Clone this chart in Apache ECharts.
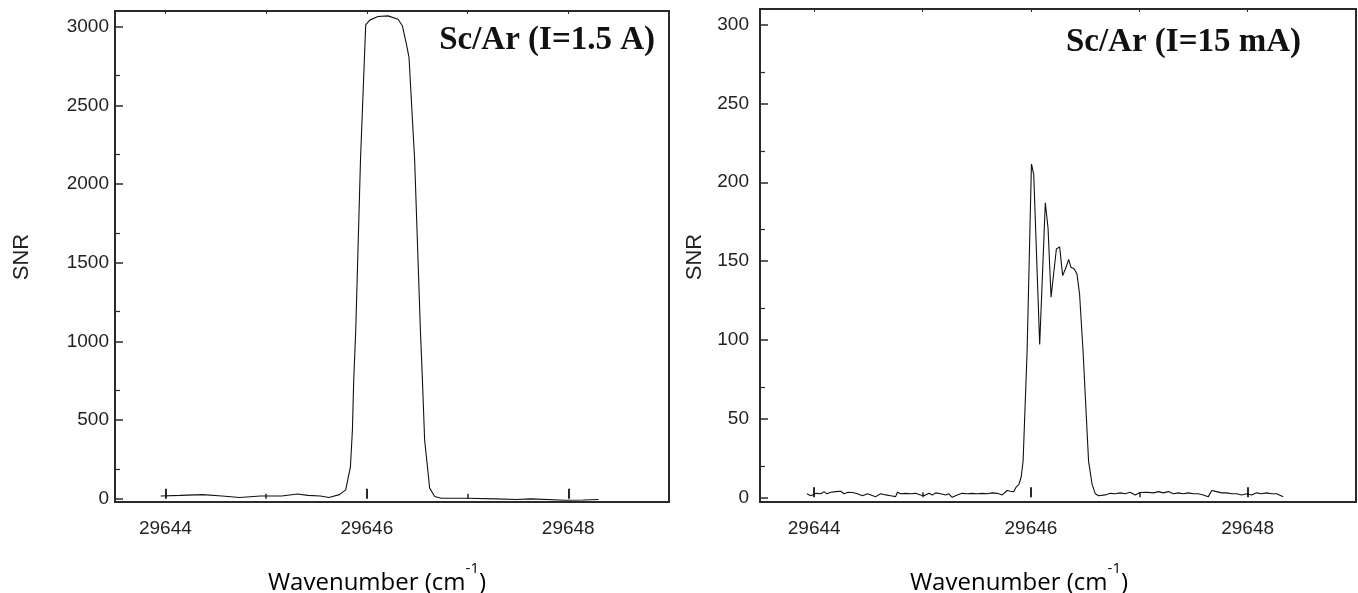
<!DOCTYPE html>
<html>
<head>
<meta charset="utf-8">
<script src="https://cdn.jsdelivr.net/npm/echarts@6/dist/echarts.min.js"></script>
<style>
html,body{margin:0;padding:0;background:#fff;}
#c{width:1358px;height:593px;}
</style>
</head>
<body>
<div id="c"></div>
<script>
// ---- Data ----
const xTickLabels = [29644, 29646, 29648];
const xMinorTicks = [29645, 29647];
const xTopTicks = [29644, 29645, 29646, 29647, 29648];
const leftYTickLabels = [0, 500, 1000, 1500, 2000, 2500, 3000];
const leftYMinorTicks = [190, 690, 1190, 1690, 2190, 2690];
const rightYTickLabels = [0, 50, 100, 150, 200, 250, 300];
const rightYMinorTicks = [20, 70, 120, 170, 220, 270];

// Left panel: Sc/Ar (I=1.5 A)
const leftX = [29643.954, 29644.146, 29644.371, 29644.563, 29644.737, 29644.945, 29645.155, 29645.312,
  29645.416, 29645.538, 29645.624, 29645.728, 29645.79, 29645.837, 29645.857, 29645.870, 29645.890,
  29645.937, 29645.989, 29646.029, 29646.111, 29646.210, 29646.310, 29646.353, 29646.393, 29646.419,
  29646.475, 29646.532, 29646.552, 29646.574, 29646.624, 29646.674, 29646.740, 29647.0, 29647.277,
  29647.486, 29647.625, 29647.973, 29648.147, 29648.30];
const leftY = [18, 22, 27, 18, 9, 18, 18, 31,
  22, 18, 9, 27, 57, 201, 437, 755, 1072,
  2150, 3012, 3042, 3065, 3069, 3048, 3006, 2890, 2805,
  2150, 1072, 755, 374, 68, 15, 4, 4, 0,
  -4, 0, -9, -7, -4];

// Right panel: Sc/Ar (I=15 mA)
const rightX = [29643.933, 29643.969, 29644.016, 29644.062, 29644.092, 29644.117, 29644.154, 29644.200,
  29644.246, 29644.276, 29644.313, 29644.354, 29644.400, 29644.446, 29644.492, 29644.522, 29644.568,
  29644.614, 29644.660, 29644.706, 29644.752, 29644.768, 29644.798, 29644.844, 29644.890, 29644.936,
  29644.982, 29645.013, 29645.059, 29645.090, 29645.121, 29645.167, 29645.213, 29645.243, 29645.274,
  29645.320, 29645.366, 29645.413, 29645.459, 29645.505, 29645.551, 29645.597, 29645.643, 29645.689,
  29645.735, 29645.781, 29645.811, 29645.842, 29645.867, 29645.888, 29645.910, 29645.928, 29645.965,
  29646.005, 29646.026, 29646.081, 29646.133, 29646.158, 29646.186, 29646.204, 29646.235, 29646.265,
  29646.293, 29646.324, 29646.348, 29646.370, 29646.400, 29646.425, 29646.449, 29646.481, 29646.532,
  29646.564, 29646.594, 29646.624, 29646.640, 29646.686, 29646.732, 29646.778, 29646.824, 29646.870,
  29646.916, 29646.962, 29647.008, 29647.070, 29647.131, 29647.177, 29647.223, 29647.269, 29647.315,
  29647.361, 29647.407, 29647.453, 29647.499, 29647.545, 29647.591, 29647.637, 29647.669, 29647.715,
  29647.761, 29647.807, 29647.853, 29647.899, 29647.945, 29647.991, 29648.037, 29648.083, 29648.129,
  29648.175, 29648.221, 29648.267, 29648.328];
const rightY = [2.2, 1.0, 2.5, 2.2, 3.6, 2.2, 3.2, 3.6,
  3.8, 2.2, 3.2, 3.0, 2.2, 1.0, 2.2, 1.5, 0.4,
  2.2, 1.5, 1.0, 0.4, 3.2, 2.2, 2.5, 2.2, 2.5,
  1.5, 1.0, 2.5, 1.5, 2.8, 2.2, 1.5, 2.2, 0.0,
  1.5, 2.5, 2.2, 2.5, 2.2, 2.5, 2.2, 2.8, 2.5,
  1.5, 4.3, 3.8, 3.6, 6.8, 8.0, 12.7, 23, 93,
  211.6, 205, 97, 187, 171, 127, 128, 157.6, 159,
  140.7, 146, 151, 146, 145, 141.8, 129, 93, 23,
  8.5, 2.2, 1.0, 2.2, 1.5, 2.5, 2.2, 2.8, 2.2,
  3.2, 1.5, 3.0, 3.2, 2.8, 3.6, 2.8, 3.6, 2.2,
  2.8, 2.2, 2.8, 2.2, 2.2, 1.5, 0.4, 4.3, 3.6,
  2.8, 2.8, 2.2, 2.2, 1.5, 2.2, 1.5, 2.8, 2.2,
  2.8, 2.2, 2.2, 0.4];

const leftTitle = 'Sc/Ar (I=1.5 A)';
const rightTitle = 'Sc/Ar (I=15 mA)';
const yName = 'SNR';

// ---- Chart ----
const chart = echarts.init(document.getElementById('c'), null, {renderer: 'canvas'});
const lblFont = {fontFamily: 'Liberation Sans', fontSize: 19, color: '#222'};
const axisCol = '#2a2a2a';

function xAxes(gi) {
  return [
    {type: 'value', gridIndex: gi, min: 29643.5, max: 29649, position: 'bottom',
      axisLine: {show: false}, splitLine: {show: false},
      axisTick: {show: true, inside: true, length: 10, customValues: xTickLabels, lineStyle: {color: axisCol, width: 2}},
      axisLabel: Object.assign({customValues: xTickLabels, margin: 17, formatter: v => String(v)}, lblFont)},
    {type: 'value', gridIndex: gi, min: 29643.5, max: 29649, position: 'bottom',
      axisLine: {show: false}, splitLine: {show: false}, axisLabel: {show: false},
      axisTick: {show: true, inside: true, length: 5, customValues: xMinorTicks, lineStyle: {color: axisCol, width: 1.5}}},
    {type: 'value', gridIndex: gi, min: 29643.5, max: 29649, position: 'top',
      axisLine: {show: false}, splitLine: {show: false}, axisLabel: {show: false},
      axisTick: {show: true, inside: true, length: 3, customValues: xTopTicks, lineStyle: {color: axisCol, width: 1}}}
  ];
}
function yAxes(gi, min, max, labels, minors, margin) {
  return [
    {type: 'value', gridIndex: gi, min: min, max: max, position: 'left',
      axisLine: {show: false}, splitLine: {show: false},
      axisTick: {show: true, inside: true, length: 8, customValues: labels, lineStyle: {color: axisCol, width: 1.5}},
      axisLabel: Object.assign({customValues: labels, margin: margin, formatter: v => String(v)}, lblFont)},
    {type: 'value', gridIndex: gi, min: min, max: max, position: 'left',
      axisLine: {show: false}, splitLine: {show: false}, axisLabel: {show: false},
      axisTick: {show: true, inside: true, length: 5, customValues: minors, lineStyle: {color: axisCol, width: 1.2}}}
  ];
}

const xs = xAxes(0).concat(xAxes(1));
const ys = yAxes(0, -20, 3100, leftYTickLabels, leftYMinorTicks, 6)
  .concat(yAxes(1, -3, 310, rightYTickLabels, rightYMinorTicks, 11));

const axisNameRich = {
  a: {fontFamily: 'Open Sans', fontSize: 24, color: '#222', lineHeight: 34, verticalAlign: 'bottom'},
  s: {fontFamily: 'Open Sans', fontSize: 15, color: '#222', lineHeight: 34, verticalAlign: 'top'}
};
function nameText(x, y) {
  return {type: 'text', x: x, y: y, silent: true,
    style: {text: '{a|Wavenumber (cm}{s|-1}{a|)}', rich: axisNameRich, align: 'center', verticalAlign: 'middle'}};
}
function snrText(x, y) {
  return {type: 'text', x: x, y: y, rotation: Math.PI / 2, silent: true,
    style: {text: yName, fontFamily: 'Liberation Sans', fontSize: 22, fill: '#222', align: 'center', verticalAlign: 'middle'}};
}
function titleText(x, y, t) {
  return {type: 'text', x: x, y: y, silent: true,
    style: {text: t, fontFamily: 'Liberation Serif', fontWeight: 'bold', fontSize: 33, fill: '#111', align: 'right', verticalAlign: 'middle'}};
}

chart.setOption({
  animation: false,
  backgroundColor: '#fff',
  grid: [
    {left: 115, top: 11, width: 554, height: 491, show: true, borderColor: axisCol, borderWidth: 2, backgroundColor: 'transparent'},
    {left: 760, top: 9, width: 596, height: 493, show: true, borderColor: axisCol, borderWidth: 2, backgroundColor: 'transparent'}
  ],
  xAxis: xs,
  yAxis: ys,
  series: [
    {type: 'line', xAxisIndex: 0, yAxisIndex: 0, showSymbol: false, smooth: false,
      lineStyle: {color: '#111', width: 1.1}, data: leftX.map((x, i) => [x, leftY[i]])},
    {type: 'line', xAxisIndex: 3, yAxisIndex: 2, showSymbol: false, smooth: false,
      lineStyle: {color: '#111', width: 1.1}, data: rightX.map((x, i) => [x, rightY[i]])}
  ],
  graphic: [
    titleText(655, 40, leftTitle),
    titleText(1301, 42, rightTitle),
    snrText(22, 257),
    snrText(695, 257),
    nameText(377, 578),
    nameText(1019, 578)
  ]
});
</script>
</body>
</html>
